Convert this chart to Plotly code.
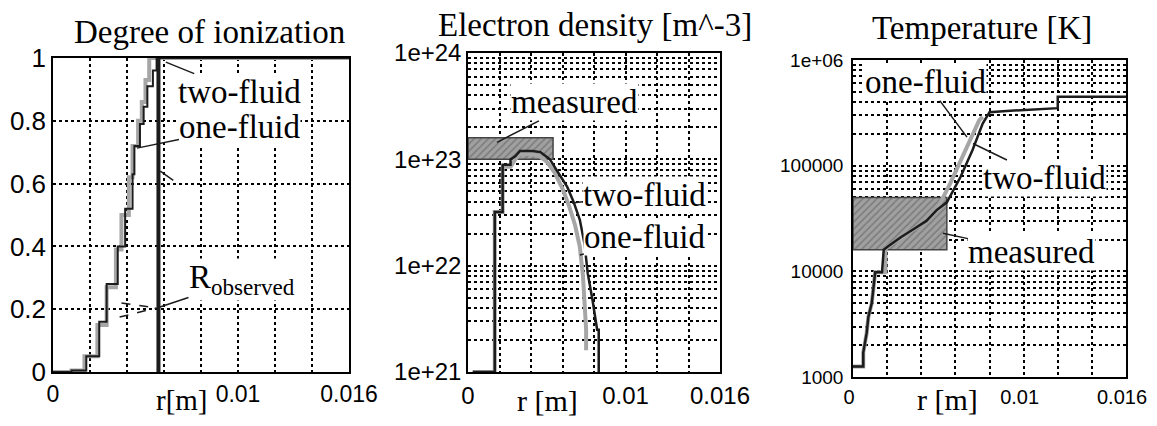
import plotly.graph_objects as go
from plotly.subplots import make_subplots

# --- Degree of ionization (step profiles) ---
ion_r_two = [0, 0.0010, 0.0018, 0.0025, 0.0029, 0.0035, 0.0039, 0.0043, 0.0044, 0.0047, 0.0049, 0.0051, 0.0054, 0.0056, 0.016]
ion_two = [0, 0.005, 0.05, 0.16, 0.28, 0.40, 0.52, 0.63, 0.72, 0.79, 0.845, 0.91, 0.96, 1.0, 1.0]
ion_r_one = [0, 0.0010, 0.0017, 0.0024, 0.0029, 0.0034, 0.0037, 0.0041, 0.0043, 0.0046, 0.0048, 0.0050, 0.0052, 0.016]
ion_one = [0, 0.005, 0.05, 0.15, 0.27, 0.39, 0.50, 0.62, 0.72, 0.80, 0.86, 0.93, 1.0, 1.0]
r_observed = 0.0057

# --- Electron density [m^-3] ---
ne_r_two = [0.0003, 0.0017, 0.0017, 0.0022, 0.0022, 0.0027, 0.0027, 0.0030, 0.0033, 0.0041, 0.0046, 0.0052,
            0.0057, 0.0063, 0.0067, 0.0071, 0.0074, 0.0076, 0.0079, 0.0082, 0.0083, 0.0083]
ne_two = [1.0e21, 1.0e21, 3.2e22, 3.2e22, 8.9e22, 8.9e22, 1.0e23, 1.07e23, 1.2e23, 1.2e23, 1.17e23, 1.0e23,
          7.6e22, 5.5e22, 4.0e22, 2.7e22, 1.6e22, 8.5e21, 4.8e21, 2.5e21, 2.5e21, 1.0e21]
ne_r_one = [0.0003, 0.0017, 0.0017, 0.0022, 0.0022, 0.0027, 0.0030, 0.0033, 0.0040, 0.0045, 0.0050, 0.0055,
            0.0060, 0.0064, 0.0068, 0.0071, 0.0073, 0.0074, 0.0075, 0.0075]
ne_one = [1.0e21, 1.0e21, 3.2e22, 3.2e22, 8.5e22, 8.5e22, 1.0e23, 1.12e23, 1.12e23, 1.08e23, 9.5e22, 7.5e22,
          5.3e22, 3.7e22, 2.4e22, 1.5e22, 8.0e21, 4.0e21, 2.5e21, 1.6e21]
ne_meas_r = [0, 0.0054]
ne_meas = [1.0e23, 1.6e23]

# --- Temperature [K] ---
te_r_two = [0, 0.0006, 0.0006, 0.0008, 0.0009, 0.0011, 0.0012, 0.0013, 0.0017, 0.0018, 0.0020, 0.0028,
            0.0037, 0.0043, 0.0049, 0.0055, 0.0063, 0.0070, 0.0076, 0.0080, 0.0090, 0.0120, 0.0120, 0.0160]
te_two = [1.26e3, 1.26e3, 1.7e3, 2.6e3, 3.7e3, 5.0e3, 7.0e3, 9.8e3, 9.8e3, 1.6e4, 1.7e4, 2.1e4,
          2.6e4, 3.0e4, 3.8e4, 4.5e4, 7.8e4, 1.4e5, 2.5e5, 3.2e5, 3.3e5, 3.5e5, 4.5e5, 4.5e5]
te_r_one = [0, 0.0006, 0.0006, 0.0008, 0.0009, 0.0011, 0.0012, 0.0013, 0.0019, 0.0019, 0.0020, 0.0028,
            0.0037, 0.0043, 0.0049, 0.0057, 0.0064, 0.0070, 0.0074, 0.0076]
te_one = [1.26e3, 1.26e3, 1.7e3, 2.6e3, 3.7e3, 5.0e3, 7.0e3, 9.8e3, 9.8e3, 1.6e4, 1.7e4, 2.1e4,
          2.6e4, 3.0e4, 3.8e4, 6.8e4, 1.2e5, 2.0e5, 2.7e5, 2.9e5]
te_meas_r = [0, 0.0055]
te_meas = [1.6e4, 5.0e4]

x_ticks = [0, 0.01, 0.016]
x_ticktext = ["0", "0.01", "0.016"]

SERIF = "Liberation Serif, Times New Roman, serif"
SANS = "Liberation Sans, Arial, sans-serif"
DARK = "#1c1c1c"
GRAY = "#a6a6a6"

# the page body keeps an 8px margin all round, so the figure sits inside it
PAGE_W, PAGE_H, OFF = 1157, 426, 8
W, H = PAGE_W - 2 * OFF, PAGE_H - 2 * OFF


def px_x(px):
    return (px - OFF) / W


def px_y(py):
    return 1 - (py - OFF) / H


def box(rr, vv):
    return [rr[0], rr[1], rr[1], rr[0], rr[0]], [vv[0], vv[0], vv[1], vv[1], vv[0]]


def log_minor(lo, hi):
    return [float(k) * 10.0 ** d for d in range(lo, hi) for k in range(2, 10)]


fig = make_subplots(rows=1, cols=3)

# panel 1
fig.add_trace(go.Scatter(x=ion_r_one, y=ion_one, mode="lines", line=dict(color=GRAY, width=4, shape="hv")), 1, 1)
fig.add_trace(go.Scatter(x=ion_r_two, y=ion_two, mode="lines", line=dict(color=DARK, width=2, shape="hv")), 1, 1)
fig.add_trace(go.Scatter(x=[r_observed, r_observed], y=[0, 1], mode="lines", line=dict(color=DARK, width=4)), 1, 1)

# panel 2
bx, by = box(ne_meas_r, ne_meas)
fig.add_trace(go.Scatter(x=bx, y=by, mode="lines", fill="toself", line=dict(color="#444", width=1.5),
                         fillcolor="#9c9c9c",
                         fillpattern=dict(shape="/", bgcolor="#a0a0a0", fgcolor="#555", size=5, solidity=0.3)), 1, 2)
fig.add_trace(go.Scatter(x=ne_r_one, y=ne_one, mode="lines", line=dict(color=GRAY, width=4)), 1, 2)
fig.add_trace(go.Scatter(x=ne_r_two, y=ne_two, mode="lines", line=dict(color=DARK, width=2.5)), 1, 2)

# panel 3
bx, by = box(te_meas_r, te_meas)
fig.add_trace(go.Scatter(x=bx, y=by, mode="lines", fill="toself", line=dict(color="#444", width=1.5),
                         fillcolor="#9c9c9c",
                         fillpattern=dict(shape="/", bgcolor="#a0a0a0", fgcolor="#555", size=5, solidity=0.3)), 1, 3)
fig.add_trace(go.Scatter(x=te_r_one, y=te_one, mode="lines", line=dict(color=GRAY, width=4)), 1, 3)
fig.add_trace(go.Scatter(x=te_r_two, y=te_two, mode="lines", line=dict(color=DARK, width=2.5)), 1, 3)

grid = dict(showgrid=True, gridcolor="black", griddash="dot", gridwidth=2)
frame = dict(showline=True, linecolor="black", linewidth=1.5, mirror=True, ticks="", zeroline=False,
             automargin=False, ticklabeloverflow="allow")
minor_grid = dict(showgrid=True, gridcolor="black", griddash="dot", gridwidth=2, ticks="")

# panel frames in page pixels (left, right, top, bottom)
frames = [(53, 349, 58, 372), (468, 720, 53, 372), (853, 1126, 60, 377)]
x_fonts = [23, 24, 20]
x_shift = [0, 0, -4]

for i, (l, r, t, b) in enumerate(frames):
    fig.update_xaxes(row=1, col=i + 1, domain=[px_x(l), px_x(r)], range=[0, 0.016], tickvals=x_ticks,
                     ticktext=x_ticktext, tickfont=dict(family=SANS, size=x_fonts[i], color="black"),
                     ticklabelstandoff=1, ticklabelshift=x_shift[i],
                     minor=dict(dtick=0.002, tick0=0, **minor_grid),
                     **grid, **frame)
    fig.update_yaxes(row=1, col=i + 1, domain=[px_y(b), px_y(t)])

fig.update_yaxes(row=1, col=1, range=[0, 1], tickvals=[0, 0.2, 0.4, 0.6, 0.8, 1],
                 ticktext=["0", "0.2", "0.4", "0.6", "0.8", "1"],
                 tickfont=dict(family=SANS, size=26, color="black"), ticklabelstandoff=0, **grid, **frame)
fig.update_yaxes(row=1, col=2, type="log", range=[21, 24],
                 tickvals=[1e21, 1e22, 1e23, 1e24], ticktext=["1e+21", "1e+22", "1e+23", "1e+24"],
                 tickfont=dict(family=SANS, size=24, color="black"), ticklabelstandoff=0,
                 minor=dict(tickmode="array", tickvals=log_minor(21, 24), **minor_grid),
                 **grid, **frame)
fig.update_yaxes(row=1, col=3, type="log", range=[3, 6],
                 tickvals=[1e3, 1e4, 1e5, 1e6], ticktext=["1000", "10000", "100000", "1e+06"],
                 tickfont=dict(family=SANS, size=19, color="black"), ticklabelstandoff=4,
                 minor=dict(tickmode="array", tickvals=log_minor(3, 6), **minor_grid),
                 **grid, **frame)

# R_observed dashed guides
fig.add_shape(type="line", xref="x", yref="y", x0=0.0037, y0=0.22, x1=r_observed - 0.0001, y1=0.204,
              line=dict(color=DARK, width=1.5, dash="dash"))
fig.add_shape(type="line", xref="x", yref="y", x0=0.0036, y0=0.175, x1=r_observed - 0.0001, y1=0.204,
              line=dict(color=DARK, width=1.5, dash="dash"))
fig.add_shape(type="line", xref="x", yref="y", x0=r_observed + 0.0001, y0=0.64, x1=0.0065, y1=0.61,
              line=dict(color=DARK, width=1.5))

lab = dict(font=dict(family=SERIF, size=33, color="black"), bgcolor="white", showarrow=True,
           arrowhead=0, arrowwidth=1.5, arrowcolor=DARK, borderpad=0)
notes = [
    ("x", "y", 0.0061, 0.987, "two-fluid", 74, 30),
    ("x", "y", 0.00454, 0.713, "one-fluid", 103, -21),
    ("x", "y", 0.00562, 0.204, "R<sub>observed</sub>", 85, -28),
    ("x2", "y2", 0.00184, 23.16, "measured", 78, -40),
    ("x2", "y2", 0.0066, 22.59, "two-fluid", 73, -8),
    ("x2", "y2", 0.0071, 22.10, "one-fluid", 65, -18),
    ("x3", "y3", 0.00668, 5.27, "one-fluid", -41, -55),
    ("x3", "y3", 0.00703, 5.21, "two-fluid", 72, 35),
    ("x3", "y3", 0.00527, 4.36, "measured", 89, 19),
]
for xr, yr, x, y, t, ax, ay in notes:
    fig.add_annotation(xref=xr, yref=yr, x=x, y=y, text=t, ax=ax, ay=ay, **lab)

titles = [("Degree of ionization", 209, 32, 33), ("Electron density [m^-3]", 595, 25, 33),
          ("Temperature [K]", 982, 28, 33),
          ("r[m]", 182, 400, 29), ("r [m]", 547, 400, 30), ("r [m]", 947, 399, 30)]
for t, px, py, fs in titles:
    fig.add_annotation(xref="paper", yref="paper", x=px_x(px), y=px_y(py), text=t, showarrow=False,
                       xanchor="center", yanchor="middle", font=dict(family=SERIF, size=fs, color="black"))

fig.update_layout(width=W, height=H, margin=dict(l=0, r=0, t=0, b=0, pad=0), showlegend=False,
                  paper_bgcolor="white", plot_bgcolor="white")

fig.write_html("out.html")
